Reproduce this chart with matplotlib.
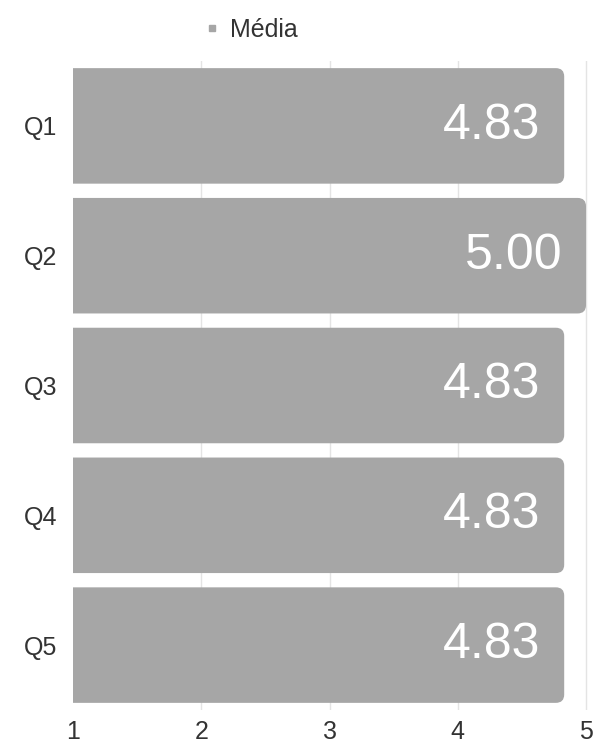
import matplotlib
matplotlib.use("Agg")
import matplotlib.pyplot as plt
from matplotlib.patches import FancyBboxPatch
from matplotlib.lines import Line2D

questions = ["Q1", "Q2", "Q3", "Q4", "Q5"]
media = [4.83, 5.00, 4.83, 4.83, 4.83]
x_ticks = [1, 2, 3, 4, 5]
series_name = "Média"

bar_color = "#a6a6a6"
text_color = "#333333"

plt.rcParams["font.family"] = ["Liberation Sans", "DejaVu Sans"]

fig = plt.figure(figsize=(5.93, 7.43), dpi=100)
W, H = 593, 743
x0, x1 = 1, 5.05
px_per_unit = 128.25
left_px, top_px, bottom_px = 73, 61, 710
ax = fig.add_axes([left_px / W, (H - bottom_px) / H,
                   (x1 - x0) * px_per_unit / W, (bottom_px - top_px) / H])

ax.set_xlim(x0, x1)
ax.set_ylim(len(questions) - 0.5, -0.5)

bar_h = 0.89
for i, v in enumerate(media):
    # start left of the axis so only the right corners stay rounded
    box = FancyBboxPatch((x0 - 0.3, i - bar_h / 2), v - (x0 - 0.3), bar_h,
                         boxstyle="round,pad=0,rounding_size=0.065",
                         mutation_aspect=128.25 / 130,
                         facecolor=bar_color, edgecolor="none", zorder=2)
    ax.add_patch(box)
    ax.annotate(f"{v:.2f}", (v, i), xytext=(-17, 0), textcoords="offset points",
                ha="right", va="center", color="white", fontsize=36, zorder=3)

ax.set_xticks(x_ticks)
ax.set_xticklabels([str(t) for t in x_ticks])
ax.set_yticks(range(len(questions)))
ax.set_yticklabels(questions)
ax.tick_params(axis="both", length=0, labelsize=18, labelcolor=text_color)
ax.tick_params(axis="x", pad=7)
ax.tick_params(axis="y", pad=11)

for t in x_ticks[1:]:
    ax.axvline(t, color="#e4e4e4", lw=1, zorder=1)
for s in ax.spines.values():
    s.set_visible(False)

handle = Line2D([], [], marker="s", ls="", color=bar_color, markersize=5)
fig.legend([handle], [series_name], loc="center",
           bbox_to_anchor=(250 / W, 1 - 30 / H), frameon=False,
           fontsize=18, labelcolor=text_color, handletextpad=0.3,
           handlelength=0.8)

fig.savefig("out.png", dpi=100)
